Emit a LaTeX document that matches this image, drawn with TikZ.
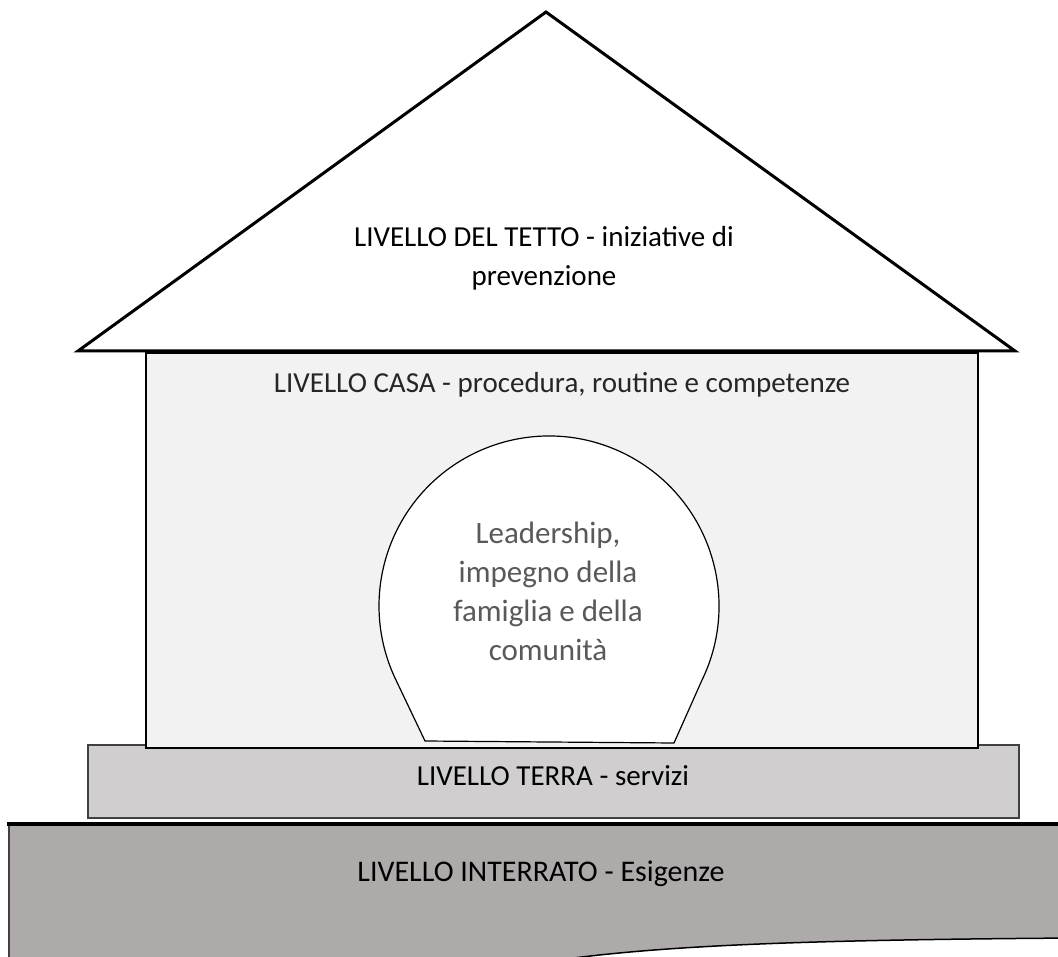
\documentclass[tikz,border=0pt]{standalone}
\usepackage{fontspec}
\setmainfont{Carlito}
\definecolor{housefill}{HTML}{F2F2F2}
\definecolor{groundfill}{HTML}{D0CECE}
\definecolor{basefill}{HTML}{AEAAAA}
\definecolor{groundline}{HTML}{404040}
\definecolor{softtext}{HTML}{595959}
\definecolor{casatext}{HTML}{262626}
\tikzset{
  lbl/.style={font=\fontsize{29}{39}\selectfont, text=black, align=center, inner sep=0pt},
  circlbl/.style={font=\fontsize{31}{39}\selectfont, text=softtext, align=center, inner sep=0pt},
}
\begin{document}
\begin{tikzpicture}[x=1pt,y=-1pt]
\useasboundingbox (0,0) rectangle (1058,957);
% basement
\begin{scope}
\clip (0,0) rectangle (1058,957);
\fill[basefill] (9,824) -- (1075,824) -- (1075,938)
  .. controls (800,940) and (640,945) .. (520,966) -- (9,966) -- cycle;
\draw[line width=1.2pt, groundline] (9,824) -- (9,966);
\draw[line width=1.5pt, black] (1075,938) .. controls (800,940) and (640,945) .. (520,966);
\draw[line width=4pt, black] (7,824) -- (1075,824);
\end{scope}
% ground
\draw[fill=groundfill, draw=groundline, line width=1.5pt] (88,745) rectangle (1019,818);
% house
\draw[fill=housefill, draw=black, line width=1.3pt] (146,353) rectangle (978,748);
% roof
\draw[fill=white, draw=black, line width=3pt, line join=miter] (78,351) -- (546,12) -- (1015,351) -- cycle;
% circle shape
\draw[fill=white, draw=black, line width=1.2pt]
  (549,606) ++(26:170) arc[start angle=26, end angle=-206, radius=170]
  -- (425,741) -- (674,743) -- cycle;
% texts
\node[lbl] (roof) at (544,258) {LIVELLO DEL TETTO - iniziative di\\prevenzione};
\node[lbl, text=casatext] (casa) at (562,385) {LIVELLO CASA - procedura, routine e competenze};
\node[circlbl] (lead) at (548,591) {Leadership,\\impegno della\\famiglia e della\\comunità};
\node[lbl] (terra) at (553,776) {LIVELLO TERRA - servizi};
\node[lbl, font=\fontsize{30}{39}\selectfont] (interr) at (541,874) {LIVELLO INTERRATO - Esigenze};
\end{tikzpicture}
\end{document}
